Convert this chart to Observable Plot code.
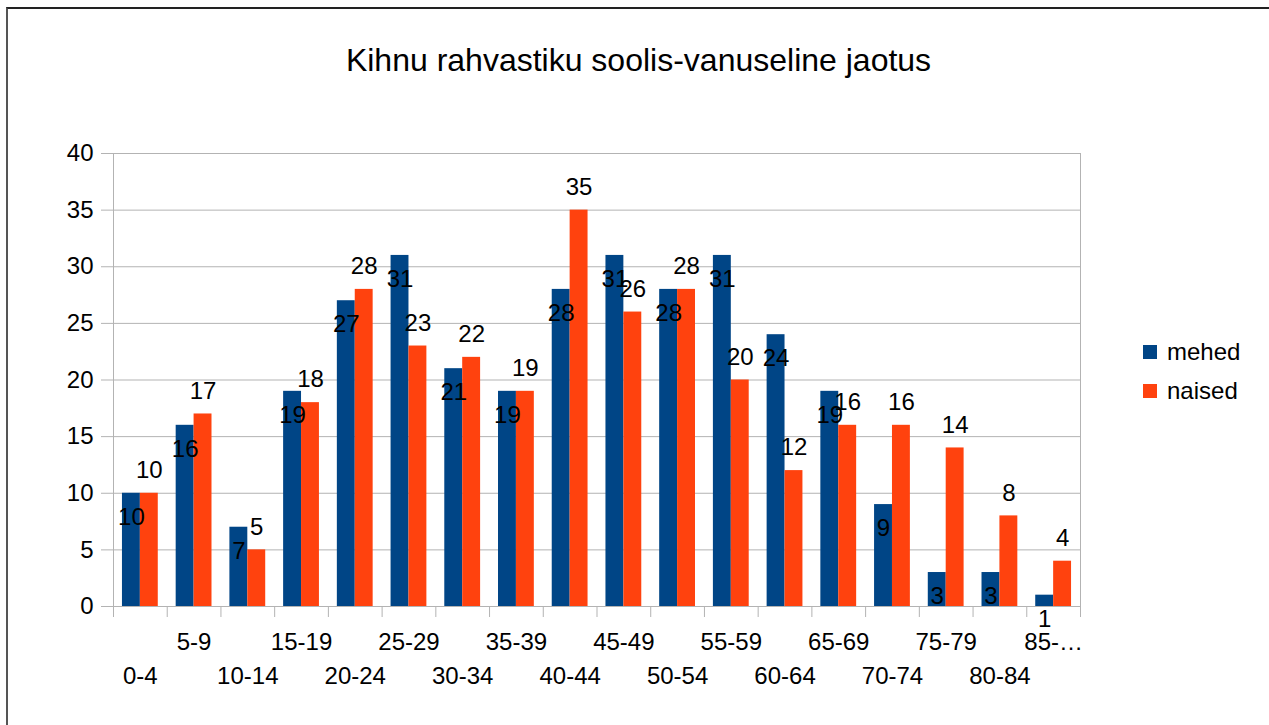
<!DOCTYPE html>
<html>
<head>
<meta charset="utf-8">
<script src="https://cdn.jsdelivr.net/npm/d3@7"></script>
<script src="https://cdn.jsdelivr.net/npm/@observablehq/plot@0.6"></script>
<style>
  html, body { margin: 0; padding: 0; background: #fff; }
  body { width: 1269px; height: 725px; position: relative; overflow: hidden; font-family: "Liberation Sans", Arial, sans-serif; }
  #border { position: absolute; left: 6px; top: 7px; right: 0; bottom: 0; border-left: 2px solid #555; border-top: 2px solid #222; }
  #title { position: absolute; left: 0; width: 1277px; top: 42px; text-align: center; font-size: 32px; color: #000; white-space: nowrap; }
  #chart { position: absolute; left: 0; top: 0; }
  .legend { position: absolute; left: 1143px; font-size: 24px; color: #000; display: flex; align-items: center; }
  .legend span.sw { display: inline-block; width: 14px; height: 14px; margin-right: 10px; }
</style>
</head>
<body>
<div id="border"></div>
<div id="chart"></div>
<div id="title">Kihnu rahvastiku soolis-vanuseline jaotus</div>
<div class="legend" style="top:338px"><span class="sw" style="background:#004586"></span>mehed</div>
<div class="legend" style="top:377px"><span class="sw" style="background:#ff420e"></span>naised</div>
<script>
const categories = ["0-4","5-9","10-14","15-19","20-24","25-29","30-34","35-39","40-44","45-49","50-54","55-59","60-64","65-69","70-74","75-79","80-84","85-…"];
const mehed  = [10,16,7,19,27,31,21,19,28,31,28,31,24,19,9,3,3,1];
const naised = [10,17,5,18,28,23,22,19,35,26,28,20,12,16,16,14,8,4];
const yTicks = [0,5,10,15,20,25,30,35,40];
const seriesNames = ["mehed","naised"];
const colors = ["#004586","#ff420e"];

const rows = categories.map((c, i) => ({group: c, mehed: mehed[i], naised: naised[i]}));

const W = 1269, H = 725, mL = 113, mR = 189, mT = 153, mB = 119;
const bw = (W - mL - mR) / categories.length;
const grid = "#b3b3b3";
const fs = 24;
const last = categories[categories.length - 1];

const chart = Plot.plot({
  width: W, height: H,
  marginLeft: mL, marginRight: mR, marginTop: mT, marginBottom: mB,
  x: {domain: categories, padding: 0, round: false, axis: null},
  y: {domain: [0, 40], axis: null},
  style: {fontFamily: "'Liberation Sans', Arial, sans-serif", fontSize: fs + "px", background: "transparent", color: "#000", overflow: "visible"},
  marks: [
    Plot.gridY(yTicks, {stroke: grid, strokeOpacity: 1, strokeWidth: 1}),
    Plot.axisY(yTicks, {tickSize: 12, tickPadding: 8, stroke: grid, strokeOpacity: 1, fill: "#000", fontSize: fs, label: null}),
    Plot.ruleX([categories[0]], {x: d => d, dx: -bw / 2, stroke: grid}),
    Plot.ruleX([last], {x: d => d, dx: bw / 2, stroke: grid}),
    Plot.axisX(categories, {tickSize: 11, tickFormat: () => "", dx: -bw / 2, stroke: grid, strokeOpacity: 1, label: null}),
    Plot.axisX([last], {tickSize: 11, tickFormat: () => "", dx: bw / 2, stroke: grid, strokeOpacity: 1, label: null}),
    Plot.barY(rows, {x: "group", y: "mehed", fill: colors[0], insetLeft: bw / 6, insetRight: bw / 2}),
    Plot.barY(rows, {x: "group", y: "naised", fill: colors[1], insetLeft: bw / 2, insetRight: bw / 6}),
    Plot.text(rows, {x: "group", y: "mehed", text: d => String(d.mehed), dx: -bw / 6, dy: 24, fontSize: fs, fill: "#000"}),
    Plot.text(rows, {x: "group", y: "naised", text: d => String(d.naised), dx: bw / 6, dy: -23, fontSize: fs, fill: "#000"}),
    Plot.axisX(categories.filter((c, i) => i % 2 === 1), {tickSize: 0, tickPadding: 26, fontSize: fs, fill: "#000", label: null}),
    Plot.axisX(categories.filter((c, i) => i % 2 === 0), {tickSize: 0, tickPadding: 60, fontSize: fs, fill: "#000", label: null})
  ]
});
document.getElementById("chart").appendChild(chart);
</script>
</body>
</html>
